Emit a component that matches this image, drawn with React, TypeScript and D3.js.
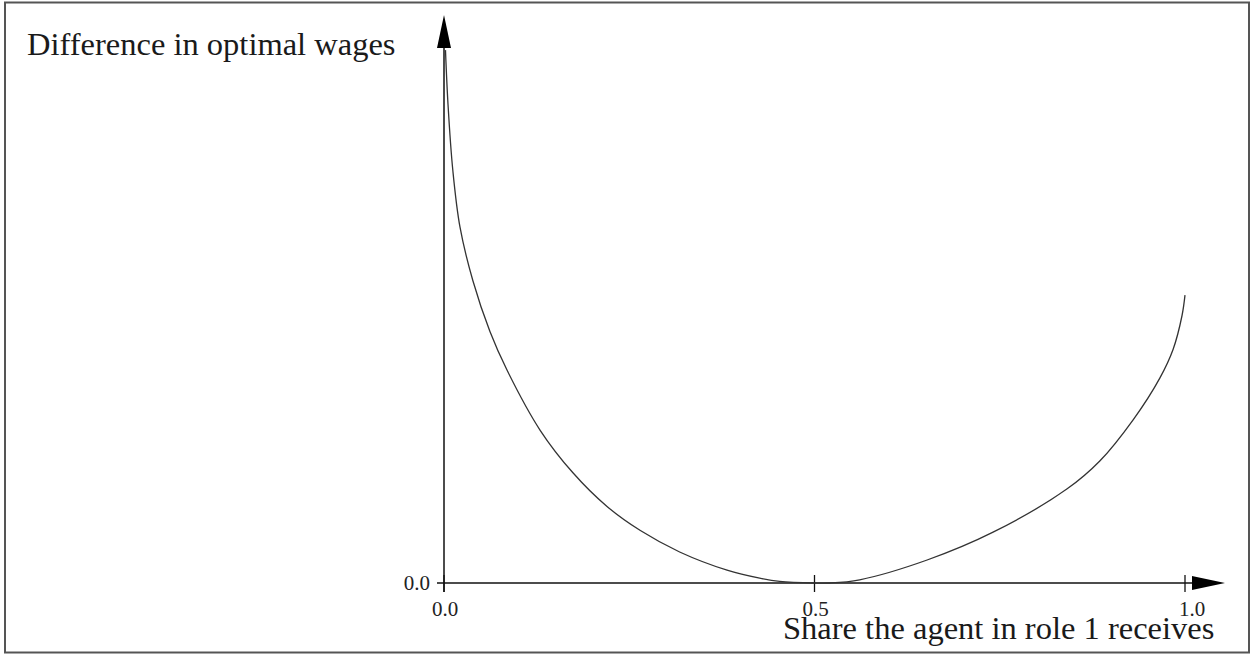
import React from 'react';
import { scaleLinear, line, curveCatmullRom } from 'd3';

// curve: share in role 1 -> difference in optimal wages (arbitrary units)
const shares = [
	0.002, 0.0054, 0.012, 0.0216, 0.039, 0.062, 0.085, 0.13, 0.174, 0.22, 0.265, 0.318,
	0.382, 0.426, 0.453, 0.5, 0.52, 0.561, 0.652, 0.741, 0.841, 0.885, 0.93, 0.966, 0.984,
	0.996, 1.0,
];
const wageDiff = [
	0.996, 0.895, 0.77, 0.665, 0.565, 0.47, 0.398, 0.285, 0.206, 0.143, 0.098, 0.058,
	0.024, 0.009, 0.003, 0.0, 0.0, 0.006, 0.043, 0.095, 0.176, 0.228, 0.305, 0.383, 0.437,
	0.5, 0.538,
];
const xTicks = [0, 0.5, 1.0];
const xTickLabels = ['0.0', '0.5', '1.0'];
const yTickLabels = ['0.0'];
const yTitle = 'Difference in optimal wages';
const xTitle = 'Share the agent in role 1 receives';

const W = 1257;
const H = 654;
const font = '"Liberation Serif", "Times New Roman", serif';

const App = () => {
	const x = scaleLinear().domain([0, 1]).range([444, 1185]);
	const y = scaleLinear().domain([0, 1]).range([583, 48]);

	const pts = shares.map((s, i) => [s, wageDiff[i]]);
	const path = line()
		.x((d) => x(d[0]))
		.y((d) => y(d[1]))
		.curve(curveCatmullRom.alpha(0.5))(pts);

	const x0 = x(0);
	const y0 = y(0);
	const axisEnd = 1225;
	const axisTop = 15;

	return (
		<div style={{ position: 'fixed', left: 0, top: 0 }}>
			<svg width={W} height={H} style={{ display: 'block', background: '#fff' }}>
				{/* frame */}
				<rect x={5} y={2.5} width={1244} height={650} fill="none" stroke="#555" strokeWidth={2} />

				{/* x axis with arrow */}
				<line x1={x0 - 7} y1={y0} x2={axisEnd - 30} y2={y0} stroke="#111" strokeWidth={1.5} />
				<path
					d={`M${axisEnd - 33},${y0 - 7} L${axisEnd},${y0} L${axisEnd - 33},${y0 + 7} Z`}
					fill="#000"
				/>
				{xTicks.map((t, i) => (
					<g key={i}>
						<line x1={x(t)} y1={y0 - 8} x2={x(t)} y2={y0 + 9} stroke="#111" strokeWidth={1.3} />
						<text
							x={x(t) + (t === 1 ? 7 : 1)}
							y={616}
							textAnchor="middle"
							fontFamily={font}
							fontSize={21}
							fill="#222"
						>
							{xTickLabels[i]}
						</text>
					</g>
				))}

				{/* y axis with arrow */}
				<line x1={x0} y1={y0 + 9} x2={x0} y2={axisTop + 30} stroke="#111" strokeWidth={1.5} />
				<path
					d={`M${x0 - 7},${axisTop + 33} L${x0},${axisTop} L${x0 + 7},${axisTop + 33} Z`}
					fill="#000"
				/>
				<text
					x={430}
					y={y0 + 7}
					textAnchor="end"
					fontFamily={font}
					fontSize={21}
					fill="#222"
				>
					{yTickLabels[0]}
				</text>

				{/* curve */}
				<path d={path} fill="none" stroke="#333" strokeWidth={1.3} />

				{/* titles */}
				<text x={27} y={55} fontFamily={font} fontSize={32.5} fill="#1a1a1a">
					{yTitle}
				</text>
				<text x={783} y={639} fontFamily={font} fontSize={32.5} fill="#1a1a1a">
					{xTitle}
				</text>
			</svg>
		</div>
	);
};

export default App;
